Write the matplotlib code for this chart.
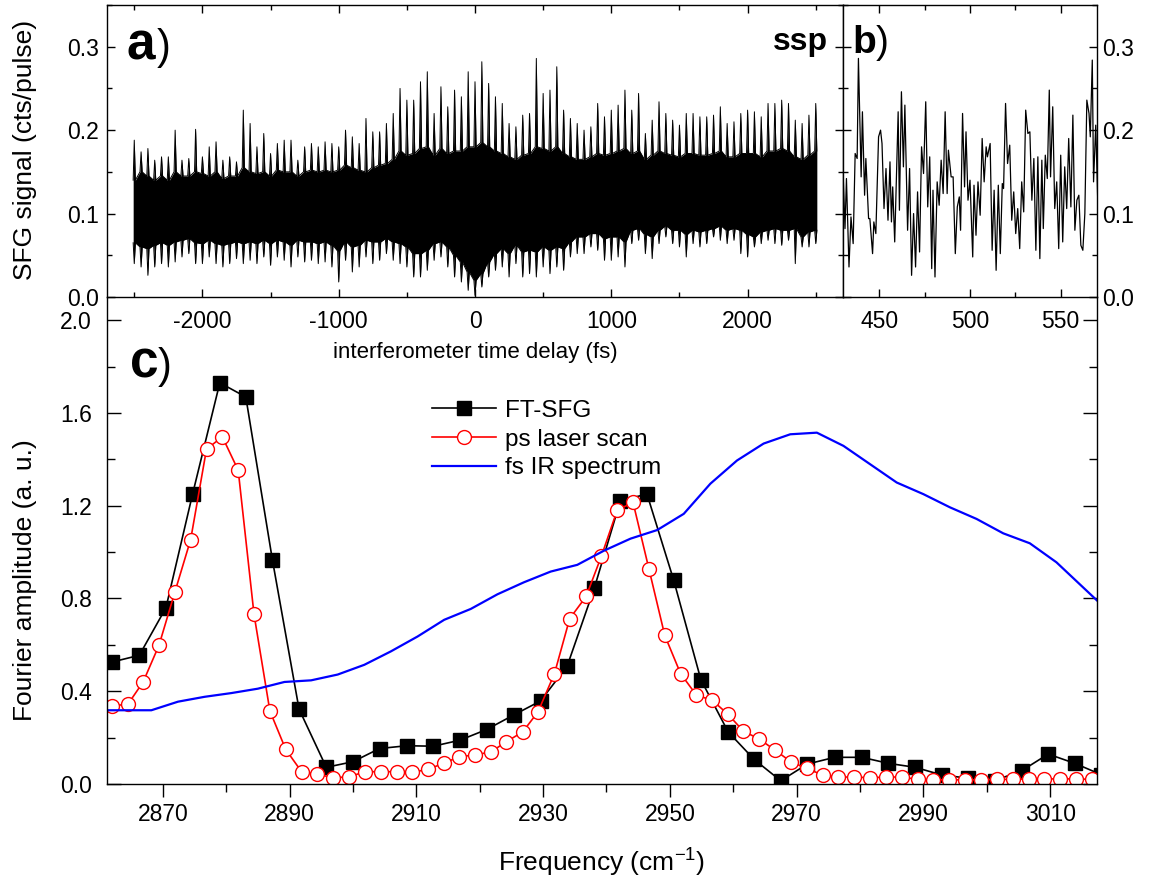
import matplotlib
matplotlib.use('Agg')
import matplotlib.pyplot as plt
import numpy as np
from matplotlib.ticker import MultipleLocator, FixedLocator, FormatStrFormatter

plt.rcParams['font.family'] = ['Liberation Sans', 'DejaVu Sans']
plt.rcParams['mathtext.fontset'] = 'custom'
plt.rcParams['mathtext.rm'] = 'Liberation Sans'
plt.rcParams['axes.unicode_minus'] = False
plt.rcParams['axes.linewidth'] = 1.0

# ---- a) interferogram envelope, read every 50 fs ----
t_env = np.arange(-2500, 2501, 50)
spike_hi = [0.188, 0.174, 0.178, 0.164, 0.168, 0.168, 0.200, 0.164, 0.166, 0.201,
            0.168, 0.180, 0.186, 0.164, 0.168, 0.162, 0.224, 0.208, 0.180, 0.196,
            0.172, 0.184, 0.188, 0.188, 0.164, 0.180, 0.184, 0.180, 0.186, 0.184,
            0.180, 0.200, 0.192, 0.184, 0.214, 0.198, 0.198, 0.208, 0.220, 0.250,
            0.236, 0.236, 0.258, 0.270, 0.220, 0.252, 0.228, 0.248, 0.240, 0.270,
            0.258, 0.282, 0.256, 0.240, 0.232, 0.208, 0.204, 0.218, 0.220, 0.286,
            0.244, 0.248, 0.276, 0.224, 0.214, 0.208, 0.200, 0.204, 0.232, 0.216,
            0.224, 0.230, 0.248, 0.224, 0.244, 0.196, 0.212, 0.234, 0.220, 0.212,
            0.206, 0.220, 0.220, 0.216, 0.216, 0.218, 0.228, 0.208, 0.210, 0.220,
            0.224, 0.222, 0.216, 0.232, 0.232, 0.236, 0.232, 0.212, 0.208, 0.218,
            0.232]
spike_lo = [0.040, 0.036, 0.026, 0.036, 0.040, 0.036, 0.042, 0.048, 0.052, 0.040,
            0.040, 0.048, 0.040, 0.036, 0.040, 0.046, 0.040, 0.044, 0.040, 0.048,
            0.038, 0.048, 0.044, 0.036, 0.048, 0.042, 0.044, 0.040, 0.042, 0.036,
            0.018, 0.044, 0.030, 0.036, 0.048, 0.040, 0.044, 0.052, 0.044, 0.040,
            0.036, 0.024, 0.024, 0.032, 0.044, 0.048, 0.036, 0.024, 0.018, 0.008,
            0.002, 0.012, 0.024, 0.032, 0.036, 0.024, 0.040, 0.024, 0.028, 0.024,
            0.036, 0.028, 0.036, 0.032, 0.048, 0.052, 0.052, 0.060, 0.056, 0.044,
            0.044, 0.048, 0.036, 0.064, 0.068, 0.052, 0.046, 0.064, 0.072, 0.064,
            0.060, 0.048, 0.064, 0.060, 0.064, 0.072, 0.068, 0.064, 0.068, 0.052,
            0.048, 0.060, 0.064, 0.068, 0.064, 0.062, 0.068, 0.040, 0.060, 0.060,
            0.064]
core_hi = [0.140, 0.150, 0.145, 0.140, 0.145, 0.140, 0.150, 0.145, 0.145, 0.150,
           0.148, 0.145, 0.150, 0.142, 0.145, 0.145, 0.155, 0.150, 0.148, 0.150,
           0.145, 0.152, 0.150, 0.150, 0.145, 0.150, 0.152, 0.150, 0.152, 0.150,
           0.152, 0.158, 0.155, 0.152, 0.150, 0.155, 0.158, 0.160, 0.165, 0.175,
           0.170, 0.172, 0.178, 0.180, 0.170, 0.178, 0.172, 0.175, 0.175, 0.180,
           0.180, 0.185, 0.180, 0.175, 0.172, 0.168, 0.165, 0.170, 0.172, 0.180,
           0.178, 0.175, 0.180, 0.172, 0.168, 0.165, 0.165, 0.168, 0.172, 0.170,
           0.172, 0.175, 0.178, 0.172, 0.175, 0.165, 0.170, 0.175, 0.172, 0.170,
           0.168, 0.172, 0.172, 0.170, 0.170, 0.172, 0.175, 0.168, 0.168, 0.172,
           0.172, 0.172, 0.168, 0.175, 0.175, 0.178, 0.175, 0.168, 0.165, 0.170,
           0.175]
core_lo = [0.065, 0.060, 0.058, 0.062, 0.065, 0.062, 0.066, 0.068, 0.070, 0.065,
           0.064, 0.068, 0.064, 0.062, 0.064, 0.066, 0.064, 0.066, 0.064, 0.068,
           0.064, 0.068, 0.066, 0.062, 0.068, 0.066, 0.066, 0.064, 0.066, 0.062,
           0.055, 0.066, 0.060, 0.062, 0.068, 0.066, 0.066, 0.070, 0.066, 0.064,
           0.060, 0.052, 0.052, 0.056, 0.064, 0.066, 0.060, 0.050, 0.042, 0.030,
           0.020, 0.028, 0.042, 0.052, 0.058, 0.052, 0.062, 0.054, 0.056, 0.054,
           0.060, 0.056, 0.060, 0.058, 0.066, 0.072, 0.072, 0.076, 0.076, 0.070,
           0.072, 0.072, 0.066, 0.080, 0.082, 0.075, 0.072, 0.080, 0.085, 0.080,
           0.080, 0.075, 0.080, 0.078, 0.080, 0.082, 0.085, 0.080, 0.082, 0.080,
           0.075, 0.072, 0.078, 0.080, 0.082, 0.080, 0.080, 0.082, 0.072, 0.078,
           0.080]

# ---- b) zoom of the interferogram ----
b_time = [429.6, 431.1, 431.9, 433.3, 434.4, 435.6, 436.7, 437.8, 438.5, 440.0,
          440.7, 441.9, 442.6, 444.1, 444.8, 446.3, 447.0, 448.1, 449.6, 450.7,
          451.5, 452.6, 453.7, 454.8, 455.9, 456.7, 457.4, 458.5, 460.4, 461.1,
          462.2, 463.3, 464.1, 465.6, 466.7, 467.8, 468.9, 470.0, 471.1, 472.2,
          473.3, 474.4, 475.6, 476.7, 477.8, 478.9, 479.6, 480.7, 481.9, 483.0,
          484.1, 485.2, 486.3, 487.4, 488.1, 489.6, 490.7, 491.9, 493.0, 494.1,
          494.8, 495.9, 497.0, 497.8, 498.9, 500.0, 501.5, 502.2, 503.3, 504.4,
          505.6, 506.7, 507.8, 508.9, 509.6, 511.1, 512.2, 513.3, 514.4, 515.6,
          516.7, 517.8, 518.5, 519.6, 520.7, 521.9, 523.0, 524.1, 525.2, 526.3,
          527.4, 528.5, 529.6, 530.7, 531.9, 533.0, 534.1, 535.2, 536.3, 537.4,
          538.5, 539.6, 540.4, 541.5, 542.6, 543.7, 544.4, 545.6, 546.7, 547.8,
          548.9, 550.0, 551.1, 552.2, 553.3, 554.4, 555.6, 556.7, 557.8, 558.9,
          560.0, 561.1, 562.2, 563.3, 564.4, 565.6, 566.3, 567.4, 568.1, 569.3,
          570.4]
b_signal = [0.178, 0.082, 0.142, 0.036, 0.096, 0.064, 0.172, 0.166, 0.286, 0.144,
            0.222, 0.122, 0.166, 0.094, 0.094, 0.052, 0.090, 0.076, 0.192, 0.200,
            0.184, 0.106, 0.154, 0.092, 0.162, 0.090, 0.132, 0.066, 0.222, 0.104,
            0.246, 0.156, 0.230, 0.080, 0.154, 0.026, 0.100, 0.036, 0.126, 0.054,
            0.180, 0.148, 0.234, 0.108, 0.168, 0.034, 0.128, 0.024, 0.138, 0.110,
            0.164, 0.124, 0.222, 0.124, 0.176, 0.144, 0.144, 0.052, 0.108, 0.120,
            0.080, 0.220, 0.132, 0.198, 0.116, 0.140, 0.048, 0.134, 0.074, 0.138,
            0.098, 0.190, 0.138, 0.180, 0.168, 0.184, 0.056, 0.128, 0.032, 0.134,
            0.052, 0.136, 0.130, 0.232, 0.160, 0.182, 0.092, 0.126, 0.076, 0.106,
            0.058, 0.138, 0.102, 0.224, 0.196, 0.198, 0.116, 0.166, 0.056, 0.168,
            0.046, 0.164, 0.082, 0.170, 0.142, 0.248, 0.144, 0.228, 0.106, 0.138,
            0.058, 0.170, 0.066, 0.156, 0.106, 0.190, 0.108, 0.218, 0.080, 0.116,
            0.122, 0.062, 0.056, 0.100, 0.236, 0.220, 0.192, 0.284, 0.138, 0.206,
            0.116]

# ---- c) spectra ----
ft_freq = [2862.0, 2866.3, 2870.5, 2874.7, 2879.0, 2883.1, 2887.3, 2891.5, 2895.8, 2900.0,
           2904.2, 2908.5, 2912.7, 2916.9, 2921.1, 2925.4, 2929.6, 2933.8, 2938.1, 2942.2,
           2946.4, 2950.6, 2954.9, 2959.2, 2963.3, 2967.5, 2971.7, 2976.0, 2980.3, 2984.5,
           2988.7, 2992.9, 2997.1, 3001.3, 3005.5, 3009.7, 3013.9, 3018.1]
ft_amp = [0.526, 0.555, 0.760, 1.250, 1.730, 1.669, 0.966, 0.323, 0.072, 0.096,
          0.153, 0.165, 0.163, 0.189, 0.235, 0.298, 0.358, 0.508, 0.846, 1.222,
          1.250, 0.880, 0.450, 0.225, 0.106, 0.014, 0.086, 0.115, 0.115, 0.089,
          0.072, 0.039, 0.025, 0.015, 0.057, 0.129, 0.089, 0.040]

ps_freq = [2862.0, 2864.5, 2866.9, 2869.4, 2871.9, 2874.4, 2876.9, 2879.4, 2881.9, 2884.4,
           2886.9, 2889.4, 2891.9, 2894.4, 2896.9, 2899.4, 2901.9, 2904.4, 2906.9, 2909.4,
           2911.9, 2914.3, 2916.8, 2919.3, 2921.8, 2924.2, 2926.8, 2929.2, 2931.8, 2934.2,
           2936.8, 2939.2, 2941.7, 2944.2, 2946.7, 2949.2, 2951.7, 2954.2, 2956.7, 2959.2,
           2961.6, 2964.1, 2966.6, 2969.1, 2971.6, 2974.1, 2976.6, 2979.1, 2981.6, 2984.1,
           2986.6, 2989.1, 2991.6, 2994.1, 2996.6, 2999.1, 3001.6, 3004.1, 3006.6, 3009.1,
           3011.6, 3014.1, 3016.6]
ps_amp = [0.337, 0.344, 0.440, 0.598, 0.827, 1.054, 1.444, 1.497, 1.353, 0.731,
          0.315, 0.149, 0.053, 0.042, 0.027, 0.031, 0.053, 0.053, 0.053, 0.050,
          0.064, 0.089, 0.118, 0.125, 0.139, 0.182, 0.225, 0.311, 0.476, 0.713,
          0.809, 0.982, 1.181, 1.214, 0.928, 0.641, 0.476, 0.383, 0.361, 0.300,
          0.228, 0.194, 0.146, 0.096, 0.067, 0.039, 0.030, 0.030, 0.027, 0.030,
          0.030, 0.020, 0.018, 0.018, 0.018, 0.018, 0.020, 0.020, 0.022, 0.022,
          0.022, 0.022, 0.020]

ir_freq = [2859.8, 2864.0, 2868.2, 2872.4, 2876.6, 2880.8, 2885.0, 2889.2, 2893.4, 2897.6,
           2901.8, 2906.0, 2910.2, 2914.4, 2918.6, 2922.8, 2927.0, 2931.2, 2935.4, 2939.6,
           2943.8, 2948.0, 2952.2, 2956.4, 2960.6, 2964.8, 2969.0, 2973.2, 2977.4, 2981.6,
           2985.8, 2990.0, 2994.2, 2998.4, 3002.6, 3006.8, 3011.0, 3019.4]
ir_amp = [0.318, 0.318, 0.318, 0.355, 0.376, 0.392, 0.411, 0.440, 0.447, 0.472,
          0.514, 0.572, 0.636, 0.708, 0.755, 0.818, 0.870, 0.916, 0.945, 1.006,
          1.058, 1.095, 1.165, 1.295, 1.395, 1.468, 1.508, 1.515, 1.458, 1.379,
          1.300, 1.250, 1.193, 1.143, 1.081, 1.038, 0.956, 0.740]

W, H = 1150, 882
TICK_FS = 16.5
fig = plt.figure(figsize=(W / 100, H / 100), dpi=100)
ax_c = fig.add_axes([107 / W, 1 - 784 / H, 990 / W, 487 / H])
ax_a = fig.add_axes([107 / W, 1 - 297 / H, 736 / W, 292 / H])
ax_b = fig.add_axes([843 / W, 1 - 297 / H, 254 / W, 292 / H])

# panel c
ax_c.plot(ft_freq, ft_amp, '-s', color='black', lw=1.2, ms=10, label='FT-SFG')
ax_c.plot(ps_freq, ps_amp, '-o', color='red', mfc='white', mec='red', mew=1.0,
          ms=10, lw=1.2, label='ps laser scan')
ax_c.plot(ir_freq, ir_amp, '-', color='blue', lw=1.6, label='fs IR spectrum')
ax_c.set_xlim(2861.2, 3017.4)
ax_c.set_ylim(0, 2.1)
ax_c.xaxis.set_major_locator(FixedLocator(np.arange(2870, 3011, 20)))
ax_c.xaxis.set_minor_locator(MultipleLocator(10))
ax_c.yaxis.set_major_locator(MultipleLocator(0.4))
ax_c.yaxis.set_minor_locator(MultipleLocator(0.2))
ax_c.yaxis.set_major_formatter(FormatStrFormatter('%.1f'))
ax_c.spines['top'].set_visible(False)
ax_c.tick_params(axis='y', which='both', direction='in', left=True, right=True,
                 labelsize=TICK_FS, pad=11, width=1)
ax_c.tick_params(axis='y', which='major', length=10)
ax_c.tick_params(axis='y', which='minor', length=5.5)
ax_c.tick_params(axis='x', which='both', direction='out', top=False,
                 labelsize=TICK_FS, pad=4, width=1)
ax_c.tick_params(axis='x', which='major', length=9.5)
ax_c.tick_params(axis='x', which='minor', length=5.5)
ax_c.legend(loc='upper left', bbox_to_anchor=(0.306, 0.834), frameon=False,
            fontsize=17.5, handlelength=2.65, handletextpad=0.35, labelspacing=0.28,
            borderpad=0.4)

# panel a
x_edge = np.column_stack([t_env - 8, t_env, t_env + 8]).ravel()
y_up = np.column_stack([core_hi, spike_hi, core_hi]).ravel()
y_dn = np.column_stack([core_lo, spike_lo, core_lo]).ravel()
ax_a.fill_between(x_edge, y_dn, y_up, color='black', lw=0)
ax_a.plot(x_edge, y_up, color='black', lw=0.7)
ax_a.plot(x_edge, y_dn, color='black', lw=0.7)
ax_a.set_xlim(-2700, 2700)
ax_a.set_ylim(0, 0.35)
ax_a.xaxis.set_major_locator(MultipleLocator(1000))
ax_a.xaxis.set_minor_locator(MultipleLocator(500))
ax_a.yaxis.set_major_locator(MultipleLocator(0.1))
ax_a.yaxis.set_minor_locator(MultipleLocator(0.05))
ax_a.yaxis.set_major_formatter(FormatStrFormatter('%.1f'))
ax_a.tick_params(which='both', direction='in', top=True, right=True,
                 labelsize=TICK_FS, width=1)
ax_a.tick_params(which='major', length=6)
ax_a.tick_params(which='minor', length=3.5)
ax_a.tick_params(axis='x', pad=9)
ax_a.tick_params(axis='y', pad=6)

# panel b
ax_b.plot(b_time, b_signal, color='black', lw=0.9)
ax_b.set_xlim(430, 570)
ax_b.set_ylim(0, 0.35)
ax_b.xaxis.set_major_locator(MultipleLocator(50))
ax_b.xaxis.set_minor_locator(MultipleLocator(25))
ax_b.yaxis.set_major_locator(MultipleLocator(0.1))
ax_b.yaxis.set_minor_locator(MultipleLocator(0.05))
ax_b.yaxis.set_major_formatter(FormatStrFormatter('%.1f'))
ax_b.tick_params(which='both', direction='in', top=True, right=True, left=True,
                 labelleft=False, labelright=True, labelsize=TICK_FS, width=1)
ax_b.tick_params(which='major', length=6)
ax_b.tick_params(which='minor', length=3.5)
ax_b.tick_params(axis='x', pad=9)
ax_b.tick_params(axis='y', pad=4)

# labels
def px(x, y):
    return x / W, 1 - y / H

fig.text(*px(25, 150), 'SFG signal (cts/pulse)', rotation=90, ha='center', va='center', fontsize=19)
fig.text(*px(25, 580), 'Fourier amplitude (a. u.)', rotation=90, ha='center', va='center', fontsize=19)
fig.text(*px(475, 352), 'interferometer time delay (fs)', ha='center', va='center', fontsize=16)
fig.text(*px(602, 862), r'Frequency (cm$^{-1}$)', ha='center', va='center', fontsize=19)
fig.text(*px(773, 50), 'ssp', ha='left', va='baseline', fontsize=23, fontweight='bold')

fig.text(*px(127, 59), 'a', ha='left', va='baseline', fontsize=37, fontweight='bold')
fig.text(*px(157, 59), ')', ha='left', va='baseline', fontsize=30)
fig.text(*px(852, 53), 'b', ha='left', va='baseline', fontsize=28, fontweight='bold')
fig.text(*px(876, 53), ')', ha='left', va='baseline', fontsize=28)
fig.text(*px(130, 378), 'c', ha='left', va='baseline', fontsize=37, fontweight='bold')
fig.text(*px(158, 378), ')', ha='left', va='baseline', fontsize=30)

fig.savefig('out.png', dpi=100)
